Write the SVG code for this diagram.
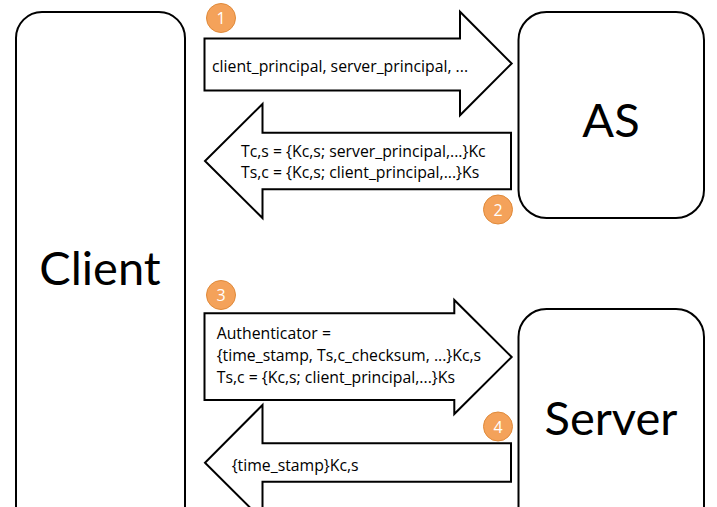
<svg xmlns="http://www.w3.org/2000/svg" width="717" height="507" viewBox="0 0 717 507">
  <style>
    .box { fill: #ffffff; stroke: #000000; stroke-width: 2; }
    .arrow { fill: #ffffff; stroke: #000000; stroke-width: 2; stroke-linejoin: miter; }
    .big { font-family: Lato, "Open Sans", sans-serif; font-size: 47px; fill: #000000; text-anchor: middle; }
    .msg { font-family: "Open Sans", Lato, sans-serif; font-size: 15.8px; fill: #000000; }
    .badge circle { fill: #F4A25A; stroke: #E08A3A; stroke-width: 1; }
    .badge text { font-family: "Open Sans", Lato, sans-serif; font-size: 16px; fill: #ffffff; text-anchor: middle; }
  </style>

  <!-- Nodes -->
  <g id="client">
    <rect class="box" x="16" y="12" width="169" height="520" rx="26" ry="26"/>
    <text class="big" x="100" y="285">Client</text>
  </g>
  <g id="as">
    <rect class="box" x="518.5" y="12" width="185.5" height="206" rx="28" ry="28"/>
    <text class="big" x="611" y="137">AS</text>
  </g>
  <g id="server">
    <rect class="box" x="518.5" y="309" width="185.5" height="230" rx="28" ry="28"/>
    <text class="big" x="611" y="435">Server</text>
  </g>

  <!-- Connectors: block arrows carrying the messages -->
  <g id="connectors">
    <g id="msg1">
      <path class="arrow" d="M204.5,38.5 H460 V11.7 L511.7,63.5 L460,115.3 V90.5 H204.5 Z"/>
      <text class="msg" x="212" y="72">client_principal, server_principal, ...</text>
    </g>
    <g id="msg2">
      <path class="arrow" d="M511,132.7 H262.5 V104 L205,161 L262.5,218 V189.3 H511 Z"/>
      <text class="msg" x="241" y="156.5">Tc,s = {Kc,s; server_principal,...}Kc</text>
      <text class="msg" x="241" y="177.5">Ts,c = {Kc,s; client_principal,...}Ks</text>
    </g>
    <g id="msg3">
      <path class="arrow" d="M204.5,313.3 H454.3 V300 L511.7,357 L454.3,414 V400 H204.5 Z"/>
      <text class="msg" x="216.7" y="339">Authenticator =</text>
      <text class="msg" x="216.7" y="361">{time_stamp, Ts,c_checksum, ...}Kc,s</text>
      <text class="msg" x="216.7" y="383">Ts,c = {Kc,s; client_principal,...}Ks</text>
    </g>
    <g id="msg4">
      <path class="arrow" d="M511,443.3 H262.5 V405 L205,462.7 L262.5,520 V481.7 H511 Z"/>
      <text class="msg" x="231.7" y="470.5">{time_stamp}Kc,s</text>
    </g>
  </g>

  <!-- Step numbers -->
  <g id="step1" class="badge">
    <circle cx="221" cy="18" r="14.5"/>
    <text x="221" y="24">1</text>
  </g>
  <g id="step2" class="badge">
    <circle cx="498" cy="209.5" r="14.5"/>
    <text x="498" y="215.5">2</text>
  </g>
  <g id="step3" class="badge">
    <circle cx="221" cy="295" r="14.5"/>
    <text x="221" y="301">3</text>
  </g>
  <g id="step4" class="badge">
    <circle cx="498" cy="426.5" r="14.5"/>
    <text x="498" y="432.5">4</text>
  </g>
</svg>
